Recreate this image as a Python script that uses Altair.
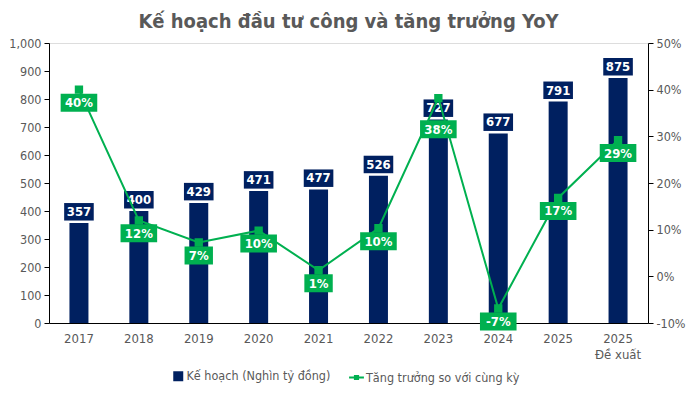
import altair as alt
import pandas as pd

categories = ["2017", "2018", "2019", "2020", "2021", "2022", "2023", "2024", "2025", "2025 Đề xuất"]
plan = [357, 400, 429, 471, 477, 526, 727, 677, 791, 875]
growth = [0.40, 0.12, 0.0725, 0.098, 0.013, 0.103, 0.382, -0.069, 0.168, 0.292]
series_names = ["Kế hoạch (Nghìn tỷ đồng)", "Tăng trưởng so với cùng kỳ"]
left_ticks = [0, 100, 200, 300, 400, 500, 600, 700, 800, 900, 1000]
right_ticks = [-0.1, 0.0, 0.1, 0.2, 0.3, 0.4, 0.5]

NAVY = "#002060"
GREEN = "#00B050"
GREY = "#595959"
TICK_FONT = "DejaVu Sans Condensed, DejaVu Sans, sans-serif"
BOLD_FONT = "DejaVu Sans Condensed, DejaVu Sans, sans-serif"

PLOT_H = 279  # plot height in pixels (used for label collision avoidance)

df = pd.DataFrame({"cat": categories, "plan": plan, "g": growth})

x = alt.X("cat:N", sort=categories, title=None,
          scale=alt.Scale(paddingInner=0.0, paddingOuter=0.0),
          axis=alt.Axis(labelAngle=0, ticks=False, domainColor="#000000",
                        labelColor=GREY, labelFont=TICK_FONT, labelFontSize=13,
                        labelPadding=9, labelLineHeight=16,
                        labelExpr="datum.value == '2025 Đề xuất' ? ['2025', 'Đề xuất'] : datum.value"))

left_axis = alt.Axis(values=left_ticks, format=",d", grid=False, domainColor="#000000",
                     tickColor="#000000", tickSize=5, labelColor=GREY,
                     labelFont=TICK_FONT, labelFontSize=12.5, labelPadding=3)
right_axis = alt.Axis(values=right_ticks, format=".0%", grid=False, orient="right",
                      domainColor="#000000", tickColor="#000000", tickSize=5,
                      labelColor=GREY, labelFont=TICK_FONT, labelFontSize=12.5,
                      labelPadding=3,
                      labelExpr="replace(datum.label, '\u2212', '-')")

yl_scale = alt.Scale(domain=[0, 1000], nice=False, zero=True)
yr_scale = alt.Scale(domain=[-0.1, 0.5], nice=False, zero=False)
yl = alt.Y("plan:Q", scale=yl_scale, title=None, axis=left_axis)
yr = alt.Y("g:Q", scale=yr_scale, title=None, axis=right_axis)
yr_lbl = alt.Y("gy:Q", scale=yr_scale, title=None, axis=right_axis)

legend_common = dict(title=None, orient="none", direction="horizontal",
                     labelFont=TICK_FONT, labelFontSize=12.5, labelColor=GREY,
                     labelOffset=2, labelLimit=400)

fill = alt.Fill("series:N", scale=alt.Scale(domain=[series_names[0]], range=[NAVY]),
                legend=alt.Legend(legendX=123, legendY=327, symbolType="square",
                                  symbolSize=100, symbolStrokeWidth=0, **legend_common))

stroke = alt.Stroke("series:N", scale=alt.Scale(domain=[series_names[1]], range=[GREEN]),
                    legend=alt.Legend(legendX=300, legendY=327,
                                      symbolType="M-1,-0.12H-0.35V-0.35H0.35V-0.12H1V0.12H0.35V0.35H-0.35V0.12H-1Z",
                                      symbolSize=220, symbolStrokeWidth=0,
                                      symbolFillColor=GREEN, **legend_common))

base = alt.Chart(df)

bars = base.transform_calculate(series=f"'{series_names[0]}'").mark_bar(size=19).encode(
    x=x, y=yl, fill=fill,
)

bar_box = base.transform_calculate(
    lbl="format(datum.plan, 'd')", w="length(datum.lbl) * 8.2 + 5"
).mark_bar(yOffset=-2.5, y2Offset=-20, color=NAVY).encode(
    x=x, y=yl, y2="plan:Q",
    size=alt.Size("w:Q", scale=None, legend=None),
)

bar_text = base.mark_text(font=BOLD_FONT, fontWeight="bold", fontSize=13, color="white", dy=-11).encode(
    x=x, y=yl, text=alt.Text("plan:Q", format="d"),
)

line = base.transform_calculate(series=f"'{series_names[1]}'").mark_line(
    strokeWidth=2,
    point=alt.OverlayMarkDef(shape="square", size=40, filled=True, color=GREEN),
).encode(
    x=x, y=yr, stroke=stroke,
)

# Growth labels sit below their point; when one would collide with the
# bar-value label, push it further down (as in the original chart).
collide = (f"abs(({PLOT_H} * (1 - datum.plan / 1000) - 11) - "
           f"({PLOT_H} * (0.5 - datum.g) / 0.6 + 13)) < 18")
shift = f"18 * 0.6 / {PLOT_H}"

g_box = base.transform_calculate(
    lbl="format(datum.g, '.0%')", w="length(datum.lbl) * 8.2 + 12",
    gy=f"({collide}) ? datum.g - {shift} : datum.g",
).mark_bar(yOffset=4, y2Offset=22, color=GREEN).encode(
    x=x, y=yr_lbl, y2="gy:Q",
    size=alt.Size("w:Q", scale=None, legend=None),
)

g_text = base.transform_calculate(
    lbl="replace(format(datum.g, '.0%'), '\u2212', '-')",
    gy=f"({collide}) ? datum.g - {shift} : datum.g",
).mark_text(font=BOLD_FONT, fontWeight="bold", fontSize=13, color="white", dy=13.5).encode(
    x=x, y=yr_lbl, text="lbl:N",
)

left = alt.layer(bars, bar_box, bar_text)
right = alt.layer(line, g_box, g_text)

chart = alt.layer(left, right).resolve_scale(y="independent").properties(
    width=684, height=377,
    autosize=alt.AutoSizeParams(type="fit", contains="padding"),
    padding={"left": 0, "right": 6, "top": 4, "bottom": 24},
    title=alt.TitleParams("Kế hoạch đầu tư công và tăng trưởng YoY", font=BOLD_FONT,
                          fontSize=20, fontWeight="bold", color=GREY, anchor="middle",
                          offset=5),
).configure_view(stroke=None).configure(background="white")

chart.save("out.html", embed_options={"renderer": "svg", "actions": False})
